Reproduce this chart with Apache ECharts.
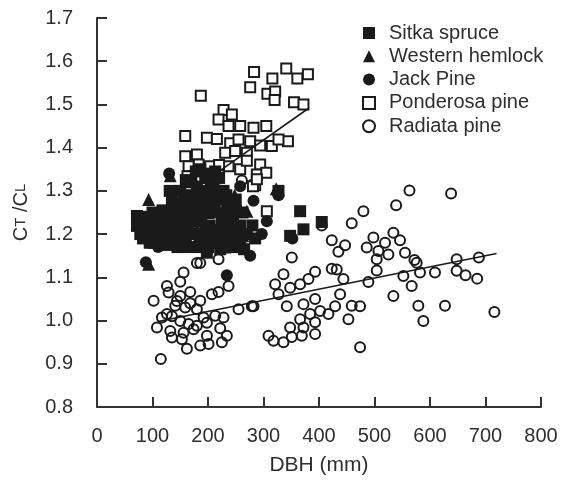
<!DOCTYPE html>
<html>
<head>
<meta charset="utf-8">
<script src="https://cdn.jsdelivr.net/npm/echarts@6/dist/echarts.min.js"></script>
<style>
html,body{margin:0;padding:0;background:#fff;}
#c{width:567px;height:481px;}
</style>
</head>
<body>
<div id="c"></div>
<script>
const seriesNames = ['Sitka spruce', 'Western hemlock', 'Jack Pine', 'Ponderosa pine', 'Radiata pine'];
const xTicks = [0, 100, 200, 300, 400, 500, 600, 700, 800];
const yTicks = [0.8, 0.9, 1.0, 1.1, 1.2, 1.3, 1.4, 1.5, 1.6, 1.7];

const sitka = [
  [72,1.242],[72,1.219],[78,1.20],[83,1.19],[90,1.225],[98,1.205],[103,1.18],[110,1.235],[114,1.19],
  [120,1.21],[125,1.175],[130,1.24],[135,1.195],[140,1.22],[145,1.17],[118,1.255],[100,1.25],[131,1.30],
  [135,1.275],[150,1.173],[160,1.19],[165,1.22],[170,1.25],[175,1.28],[180,1.31],[155,1.26],[150,1.30],
  [158,1.23],[185,1.17],[190,1.20],[188,1.24],[192,1.27],[190,1.30],[195,1.33],[186,1.35],[198,1.157],
  [205,1.19],[203,1.22],[207,1.26],[205,1.29],[210,1.32],[213,1.345],[222,1.165],[220,1.20],[225,1.23],
  [218,1.25],[223,1.28],[228,1.30],[220,1.33],[235,1.18],[240,1.21],[238,1.25],[243,1.27],[233,1.29],
  [252,1.19],[258,1.22],[262,1.25],[255,1.17],[270,1.20],[265,1.165],[327,1.30],[366,1.253],[372,1.211],
  [348,1.196],[405,1.228],
  [145,1.195],[150,1.24],[165,1.17],[170,1.20],[175,1.23],[180,1.26],[160,1.29],[170,1.32],[178,1.345],
  [200,1.17],[195,1.215],[198,1.25],[212,1.27],[215,1.30],[200,1.34],[230,1.21],[232,1.24],[228,1.19],
  [245,1.23],[250,1.255],[215,1.18],[183,1.29],[165,1.27],[140,1.26],[125,1.22],[110,1.21],[88,1.24],
  [95,1.18],[80,1.215],[160,1.325],[205,1.305],[240,1.19],[250,1.28],[260,1.20],[245,1.17],[280,1.22],
  [285,1.19],[210,1.21],[185,1.19],[155,1.21],[235,1.265]
];
const hemlock = [
  [93,1.28],[128,1.262],[93,1.13],[132,1.335],[270,1.253],[263,1.196],[105,1.22],[150,1.28],[160,1.19],
  [200,1.25],[230,1.17],[117,1.20],[248,1.29],[180,1.21],[140,1.25],[323,1.305]
];
const jack = [
  [88,1.135],[130,1.34],[234,1.105],[297,1.20],[306,1.23],[282,1.277],[276,1.15],[258,1.311],[352,1.19],
  [222,1.19],[172,1.25],[110,1.17],[200,1.29],[327,1.29]
];
const ponderosa = [
  [187,1.52],[283,1.575],[276,1.54],[316,1.56],[341,1.583],[361,1.56],[380,1.57],[307,1.525],[321,1.53],
  [320,1.51],[355,1.505],[372,1.50],[344,1.415],[228,1.487],[243,1.477],[219,1.465],[237,1.45],[258,1.45],
  [282,1.446],[305,1.45],[198,1.423],[216,1.42],[240,1.41],[255,1.419],[276,1.415],[294,1.405],[315,1.404],
  [327,1.419],[159,1.427],[180,1.384],[159,1.38],[231,1.388],[249,1.392],[270,1.388],[204,1.357],[183,1.361],
  [165,1.357],[294,1.361],[288,1.338],[305,1.342],[237,1.357],[163,1.334],[285,1.313],[162,1.30],[165,1.277],
  [258,1.17],[306,1.253],[281,1.311],[258,1.35],[270,1.37],[220,1.36],[200,1.33],[288,1.327]
];
const radiata = [
  [180,1.133],[186,1.133],[219,1.142],[156,1.111],[150,1.09],[126,1.08],[129,1.065],[102,1.046],[168,1.066],
  [150,1.057],[186,1.046],[207,1.061],[219,1.066],[237,1.08],[141,1.034],[159,1.03],[180,1.026],[168,1.04],
  [126,1.015],[117,1.007],[135,1.01],[150,0.999],[165,0.992],[180,0.988],[108,0.984],[132,0.976],[156,0.972],
  [174,0.98],[213,1.011],[228,1.007],[192,1.007],[198,0.995],[222,0.982],[234,0.965],[198,0.965],[135,0.961],
  [153,0.957],[186,0.942],[201,0.946],[162,0.935],[225,0.95],[115,0.911],[255,1.026],[279,1.033],[144,1.045],
  [423,1.186],[447,1.174],[435,1.159],[351,1.146],[459,1.225],[498,1.192],[486,1.169],[507,1.161],[519,1.18],
  [534,1.203],[546,1.186],[525,1.153],[504,1.142],[555,1.157],[576,1.134],[582,1.111],[552,1.103],[504,1.116],
  [489,1.089],[567,1.08],[534,1.057],[579,1.034],[588,0.999],[423,1.12],[432,1.118],[444,1.096],[393,1.113],
  [381,1.096],[336,1.107],[321,1.084],[348,1.076],[366,1.084],[327,1.061],[282,1.033],[393,1.05],[372,1.038],
  [342,1.033],[438,1.061],[429,1.033],[417,1.015],[402,1.022],[384,1.015],[366,1.003],[348,0.984],[372,0.984],
  [393,0.996],[393,0.969],[369,0.965],[351,0.962],[459,1.034],[474,1.033],[453,1.003],[309,0.965],[318,0.953],
  [336,0.95],[474,0.938],[563,1.301],[638,1.294],[539,1.267],[480,1.253],[609,1.111],[648,1.142],[648,1.115],
  [664,1.105],[685,1.097],[688,1.146],[627,1.034],[716,1.02],[572,1.14],[261,1.324],[405,1.22]
];
const ponderosaFit = [[170,1.30],[380,1.49]];
const radiataFit = [[110,0.998],[720,1.155]];

const TXT = '#2e2e2e';
const FONT = 'Liberation Sans, Arial, sans-serif';
const chart = echarts.init(document.getElementById('c'), null, {renderer: 'canvas'});

const hollow = {color: '#ffffff', borderColor: '#1a1a1a', borderWidth: 2, opacity: 1};
const hollowC = {color: 'rgba(255,255,255,0)', borderColor: '#1a1a1a', borderWidth: 2, opacity: 1};
const solid = {color: '#1a1a1a', opacity: 1};

chart.setOption({
  animation: false,
  backgroundColor: '#fff',
  grid: {left: 97, right: 26, top: 18, bottom: 72, containLabel: false},
  legend: {
    orient: 'vertical', left: 357, top: 18,
    itemWidth: 12, itemHeight: 12, itemGap: 3.3,
    data: seriesNames,
    textStyle: {fontFamily: FONT, fontSize: 20, color: TXT, lineHeight: 20, padding: [0, 0, 0, 9]}
  },
  xAxis: {
    type: 'value', min: xTicks[0], max: xTicks[xTicks.length - 1], interval: 100,
    name: 'DBH (mm)', nameLocation: 'middle', nameGap: 48,
    nameTextStyle: {fontFamily: FONT, fontSize: 21, color: TXT},
    axisLine: {show: true, lineStyle: {color: '#333', width: 2}},
    axisTick: {show: true, inside: true, length: 10, lineStyle: {color: '#333', width: 2}},
    axisLabel: {fontFamily: FONT, fontSize: 20, color: TXT, margin: 19},
    splitLine: {show: false}
  },
  yAxis: {
    type: 'value', min: yTicks[0], max: yTicks[yTicks.length - 1], interval: 0.1,
    name: '{a|C}{b|T}{a| /C}{b|L}', nameLocation: 'middle', nameGap: 66, nameRotate: 90,
    nameTextStyle: {
      color: TXT,
      rich: {
        a: {fontFamily: FONT, fontSize: 20, color: TXT},
        b: {fontFamily: FONT, fontSize: 15, color: TXT}
      }
    },
    axisLine: {show: true, lineStyle: {color: '#333', width: 2}},
    axisTick: {show: true, inside: true, length: 10, lineStyle: {color: '#333', width: 2}},
    axisLabel: {fontFamily: FONT, fontSize: 20, color: TXT, margin: 24,
      formatter: v => (Math.round(v * 10) / 10).toFixed(1)},
    splitLine: {show: false}
  },
  series: [
    {name: seriesNames[0], type: 'scatter', symbol: 'rect', symbolSize: 12, data: sitka, itemStyle: solid, z: 3},
    {name: seriesNames[1], type: 'scatter', symbol: 'triangle', symbolSize: 13, data: hemlock, itemStyle: solid, z: 3},
    {name: seriesNames[2], type: 'scatter', symbol: 'circle', symbolSize: 12, data: jack, itemStyle: solid, z: 3},
    {name: seriesNames[3], type: 'scatter', symbol: 'rect', symbolSize: 10, data: ponderosa, itemStyle: hollow, z: 2},
    {name: seriesNames[4], type: 'scatter', symbol: 'circle', symbolSize: 10, data: radiata, itemStyle: hollowC, z: 4},
    {name: 'fitP', type: 'line', data: ponderosaFit, showSymbol: false, symbol: 'none',
      lineStyle: {color: '#1a1a1a', width: 1.6}, z: 5, silent: true},
    {name: 'fitR', type: 'line', data: radiataFit, showSymbol: false, symbol: 'none',
      lineStyle: {color: '#1a1a1a', width: 1.6}, z: 5, silent: true}
  ]
});
</script>
</body>
</html>
